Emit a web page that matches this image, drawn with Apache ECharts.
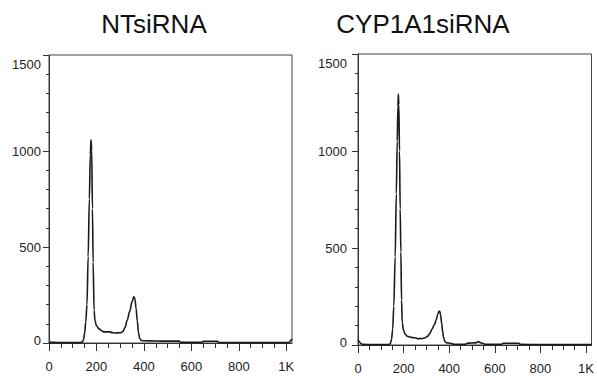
<!DOCTYPE html>
<html>
<head>
<meta charset="utf-8">
<script src="https://cdn.jsdelivr.net/npm/echarts@6/dist/echarts.min.js"></script>
<style>
html,body{margin:0;padding:0;background:#fff;}
#chart{width:597px;height:379px;}
</style>
</head>
<body>
<div id="chart"></div>
<script>
// ---- data ----
const panelTitles = ['NTsiRNA', 'CYP1A1siRNA'];

const ntChannel = [0, 20, 60, 100, 130, 140, 145, 150, 155, 160, 165, 170, 174, 177, 180, 183, 186, 190, 194, 200, 210, 220, 230, 245, 258, 265, 280, 300, 310, 320, 330, 340, 350, 357, 362, 367, 372, 377, 382, 388, 395, 420, 480, 548, 555, 600, 645, 650, 710, 716, 800, 900, 1000, 1012, 1020, 1024];
const ntCount   = [5, 3, 2, 2, 2, 5, 15, 50, 110, 200, 450, 750, 980, 1058, 1000, 700, 420, 170, 115, 90, 75, 65, 58, 58, 58, 54, 52, 53, 58, 80, 120, 165, 215, 240, 232, 180, 115, 55, 25, 14, 12, 11, 10, 10, 4, 3, 3, 9, 9, 3, 2, 2, 2, 4, 15, 20];

const cypChannel = [0, 5, 12, 20, 60, 100, 135, 142, 147, 152, 157, 163, 168, 172, 175, 177, 179, 182, 185, 188, 191, 194, 200, 206, 215, 225, 240, 255, 265, 270, 280, 295, 305, 315, 325, 335, 343, 350, 355, 358, 362, 367, 371, 375, 381, 390, 405, 420, 470, 478, 500, 520, 528, 536, 545, 560, 630, 636, 705, 712, 800, 900, 1000, 1024];
const cypCount   = [28, 18, 8, 3, 2, 2, 2, 8, 30, 80, 200, 455, 780, 1050, 1230, 1294, 1240, 1000, 700, 480, 230, 115, 75, 58, 46, 42, 38, 36, 31, 34, 33, 37, 45, 60, 82, 105, 130, 160, 174, 175, 155, 112, 70, 40, 18, 11, 9, 4, 3, 9, 10, 12, 18, 12, 9, 3, 3, 9, 9, 3, 2, 2, 2, 2];

const xMajorTicks = [0, 200, 400, 600, 800, 1000];
const xMinorTicks = [50, 100, 150, 250, 300, 350, 450, 500, 550, 650, 700, 750, 850, 900, 950];
const xTickLabels = ['0', '200', '400', '600', '800', '1K'];
const yTicks = [0, 500, 1000, 1500];
const xMax = 1024;
const yMax = 1500;

// ---- chart ----
const tickFont = '"Liberation Sans Narrow", "Liberation Sans", Arial, sans-serif';
const axisColor = '#333';
const textColor = '#222';

const grids = [
  { left: 49, top: 55, width: 243, height: 288 },
  { left: 358, top: 54, width: 241, height: 291 }
];
const yLabelMargin = [8, 11];

const gridOpts = grids.map(g => Object.assign({
  show: true, borderColor: '#444', borderWidth: 1, backgroundColor: 'transparent', containLabel: false
}, g));

const xAxes = [];
const yAxes = [];
grids.forEach((g, i) => {
  xAxes.push({
    type: 'value', gridIndex: i, min: 0, max: xMax, position: 'bottom',
    axisLine: { show: true, onZero: false, lineStyle: { color: axisColor, width: 1 } },
    axisTick: { show: true, inside: false, length: 8, customValues: xMajorTicks, lineStyle: { color: axisColor } },
    axisLabel: {
      show: true, customValues: xMajorTicks, margin: 17,
      fontFamily: tickFont, fontSize: 13, color: textColor,
      formatter: v => { const k = xMajorTicks.indexOf(v); return k >= 0 ? xTickLabels[k] : ''; }
    },
    splitLine: { show: false }
  });
  xAxes.push({
    type: 'value', gridIndex: i, min: 0, max: xMax, position: 'bottom',
    axisLine: { show: false },
    axisTick: { show: true, inside: false, length: 5, customValues: xMinorTicks, lineStyle: { color: axisColor } },
    axisLabel: { show: false },
    splitLine: { show: false }
  });
  yAxes.push({
    type: 'value', gridIndex: i, min: 0, max: yMax, interval: 500,
    axisLine: { show: true, onZero: false, lineStyle: { color: axisColor, width: 1 } },
    axisTick: { show: true, inside: false, length: 6, lineStyle: { color: axisColor } },
    minorTick: { show: true, splitNumber: 5, length: 3, lineStyle: { color: axisColor } },
    axisLabel: {
      show: true, margin: yLabelMargin[i], fontFamily: tickFont, fontSize: 13, color: textColor,
      formatter: v => v === yMax ? '{t|' + v + '}' : (v === 0 ? '{b|0}' : String(v)),
      rich: {
        t: { fontFamily: tickFont, fontSize: 13, color: textColor, padding: [18, 0, 0, 0] },
        b: { fontFamily: tickFont, fontSize: 13, color: textColor, padding: [0, 0, 6, 0] }
      }
    },
    splitLine: { show: false },
    minorSplitLine: { show: false }
  });
});

const lineStyle = { color: '#1a1a1a', width: 1.6 };
const series = [
  {
    type: 'line', name: panelTitles[0], xAxisIndex: 0, yAxisIndex: 0,
    data: ntChannel.map((c, k) => [c, ntCount[k]]),
    showSymbol: false, smooth: 0.35, smoothMonotone: 'x', lineStyle: lineStyle, itemStyle: { color: '#1a1a1a' }
  },
  {
    type: 'line', name: panelTitles[1], xAxisIndex: 2, yAxisIndex: 1,
    data: cypChannel.map((c, k) => [c, cypCount[k]]),
    showSymbol: false, smooth: 0.35, smoothMonotone: 'x', lineStyle: lineStyle, itemStyle: { color: '#1a1a1a' }
  }
];

const chart = echarts.init(document.getElementById('chart'), null, { renderer: 'svg', width: 597, height: 379 });
chart.setOption({
  animation: false,
  backgroundColor: '#fff',
  grid: gridOpts,
  xAxis: xAxes,
  yAxis: yAxes,
  series: series,
  graphic: [
    { type: 'text', x: 154, y: 24, style: { text: panelTitles[0], fontFamily: 'Liberation Sans, Arial, sans-serif', fontSize: 26, fill: '#111', align: 'center', verticalAlign: 'middle' } },
    { type: 'text', x: 423, y: 24, style: { text: panelTitles[1], fontFamily: 'Liberation Sans, Arial, sans-serif', fontSize: 26, fill: '#111', align: 'center', verticalAlign: 'middle' } }
  ]
});
</script>
</body>
</html>
